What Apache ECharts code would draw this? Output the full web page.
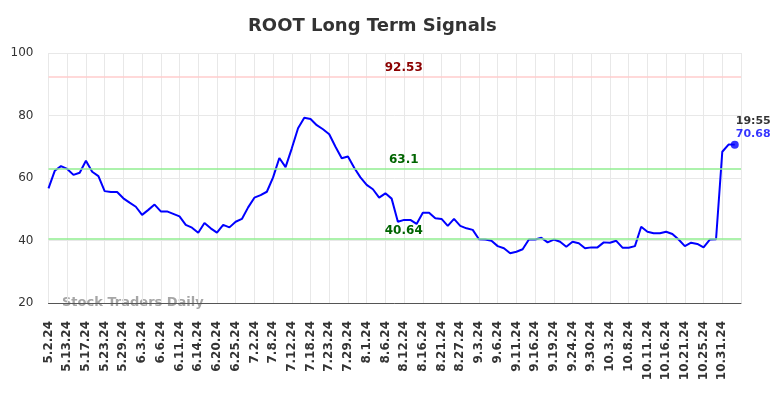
<!DOCTYPE html>
<html>
<head>
<meta charset="utf-8">
<script src="https://cdn.jsdelivr.net/npm/echarts@6/dist/echarts.min.js"></script>
<style>html,body{margin:0;padding:0;background:#fff}#c{width:784px;height:398px}</style>
</head>
<body>
<div id="c"></div>
<script>
var titleText = 'ROOT Long Term Signals';
var watermark = 'Stock Traders Daily';
var categories = ['5.2.24','5.6.24','5.9.24','5.13.24','5.14.24','5.16.24','5.17.24','5.20.24','5.22.24','5.23.24','5.24.24','5.28.24','5.29.24','5.30.24','5.31.24','6.3.24','6.4.24','6.5.24','6.6.24','6.7.24','6.10.24','6.11.24','6.12.24','6.13.24','6.14.24','6.17.24','6.18.24','6.20.24','6.21.24','6.24.24','6.25.24','6.26.24','6.28.24','7.2.24','7.3.24','7.5.24','7.8.24','7.9.24','7.11.24','7.12.24','7.15.24','7.16.24','7.18.24','7.19.24','7.22.24','7.23.24','7.24.24','7.26.24','7.29.24','7.30.24','7.31.24','8.1.24','8.2.24','8.5.24','8.6.24','8.8.24','8.9.24','8.12.24','8.13.24','8.15.24','8.16.24','8.19.24','8.20.24','8.21.24','8.22.24','8.26.24','8.27.24','8.29.24','8.30.24','9.3.24','9.4.24','9.5.24','9.6.24','9.9.24','9.10.24','9.11.24','9.12.24','9.13.24','9.16.24','9.17.24','9.18.24','9.19.24','9.20.24','9.23.24','9.24.24','9.26.24','9.27.24','9.30.24','10.1.24','10.2.24','10.3.24','10.4.24','10.7.24','10.8.24','10.9.24','10.10.24','10.11.24','10.14.24','10.15.24','10.16.24','10.17.24','10.18.24','10.21.24','10.23.24','10.24.24','10.25.24','10.28.24','10.29.24','10.31.24','11.1.24','11.4.24'];
var values = [56.7,62.3,63.8,62.9,61.0,61.7,65.5,62.0,60.6,55.8,
55.5,55.5,53.5,52.1,50.8,48.2,49.8,51.5,49.3,49.3,
48.5,47.7,45.0,44.1,42.5,45.6,43.9,42.5,45.0,44.2,
46.0,46.9,50.6,53.7,54.5,55.6,60.2,66.4,63.5,69.5,
75.9,79.3,78.9,76.9,75.6,74.0,70.0,66.3,66.9,63.3,
60.2,57.8,56.4,53.7,55.1,53.4,46.0,46.6,46.6,45.3,
48.9,48.9,47.1,46.9,44.7,46.9,44.7,43.9,43.4,40.4,
40.3,39.9,38.2,37.5,35.9,36.4,37.2,40.3,40.3,40.9,
39.4,40.3,39.6,38.0,39.6,39.1,37.5,37.8,37.8,39.4,
39.3,39.9,37.7,37.7,38.2,44.4,42.8,42.3,42.3,42.8,
42.1,40.3,38.2,39.3,38.9,37.8,40.3,40.4,68.4,70.7,70.68];
var resistanceLevel = 92.53;
var supportLevels = [63.1, 40.64];
var lastTime = '19:55';
var yTicks = [20, 40, 60, 80, 100];

var chart = echarts.init(document.getElementById('c'), null, {renderer: 'canvas'});
var font = 'DejaVu Sans';
var lastIdx = values.length - 1;

function levelLine(v, lineColor, textColor) {
  return {
    yAxis: v,
    lineStyle: {color: lineColor, width: 1.5, type: 'solid'},
    label: {show: true, position: 'insideMiddleTop', distance: 2, offset: [9, 0],
      formatter: String(v), color: textColor, fontWeight: 'bold', fontSize: 12, fontFamily: font}
  };
}

chart.setOption({
  animation: false,
  backgroundColor: '#fff',
  textStyle: {fontFamily: font},
  title: {text: titleText, left: 248, top: 17, padding: 0,
    textStyle: {fontSize: 18, fontWeight: 'bold', color: '#333', fontFamily: font}},
  graphic: [{type: 'text', left: 62, top: 296, z: -10, silent: true,
    style: {text: watermark, fill: '#a6a6a6', font: 'bold 13px "DejaVu Sans"'}}],
  grid: {left: 48.5, right: 43, top: 53, bottom: 95, containLabel: false},
  xAxis: {
    type: 'category', data: categories, boundaryGap: false, max: categories.length,
    axisLine: {show: true, lineStyle: {color: '#555', width: 1}},
    axisTick: {show: false},
    axisLabel: {interval: 2, rotate: 90, margin: 18, fontSize: 12, fontWeight: 'bold', color: '#333', fontFamily: font},
    splitLine: {show: true, interval: 2, lineStyle: {color: '#e8e8e8', width: 1}}
  },
  yAxis: {
    type: 'value', min: yTicks[0], max: yTicks[yTicks.length - 1], interval: 20,
    axisLine: {show: false}, axisTick: {show: false},
    axisLabel: {fontSize: 12, color: '#333', margin: 15, fontFamily: font},
    splitLine: {show: true, lineStyle: {color: '#e8e8e8', width: 1}}
  },
  series: [{
    type: 'line', data: values, showSymbol: false, symbol: 'none',
    lineStyle: {color: '#0000ff', width: 2}, z: 3,
    markLine: {silent: true, symbol: ['none', 'none'],
      data: [levelLine(resistanceLevel, '#ffcccc', '#8b0000'),
             levelLine(supportLevels[0], '#90ee90', '#006400'),
             levelLine(supportLevels[1], '#90ee90', '#006400')]}
  }, {
    type: 'scatter', data: [[lastIdx, values[lastIdx]]], symbol: 'circle', symbolSize: 8,
    itemStyle: {color: '#0000ff'}, z: 4,
    label: {show: true, position: [5, 0], align: 'left', verticalAlign: 'bottom',
      formatter: '{t|' + lastTime + '}\n{v|' + values[lastIdx] + '}',
      rich: {t: {color: '#000', fontWeight: 'bold', fontSize: 11, lineHeight: 13, fontFamily: font},
             v: {color: '#0000ff', fontWeight: 'bold', fontSize: 11, lineHeight: 13, fontFamily: font}}}
  }]
});
</script>
</body>
</html>
